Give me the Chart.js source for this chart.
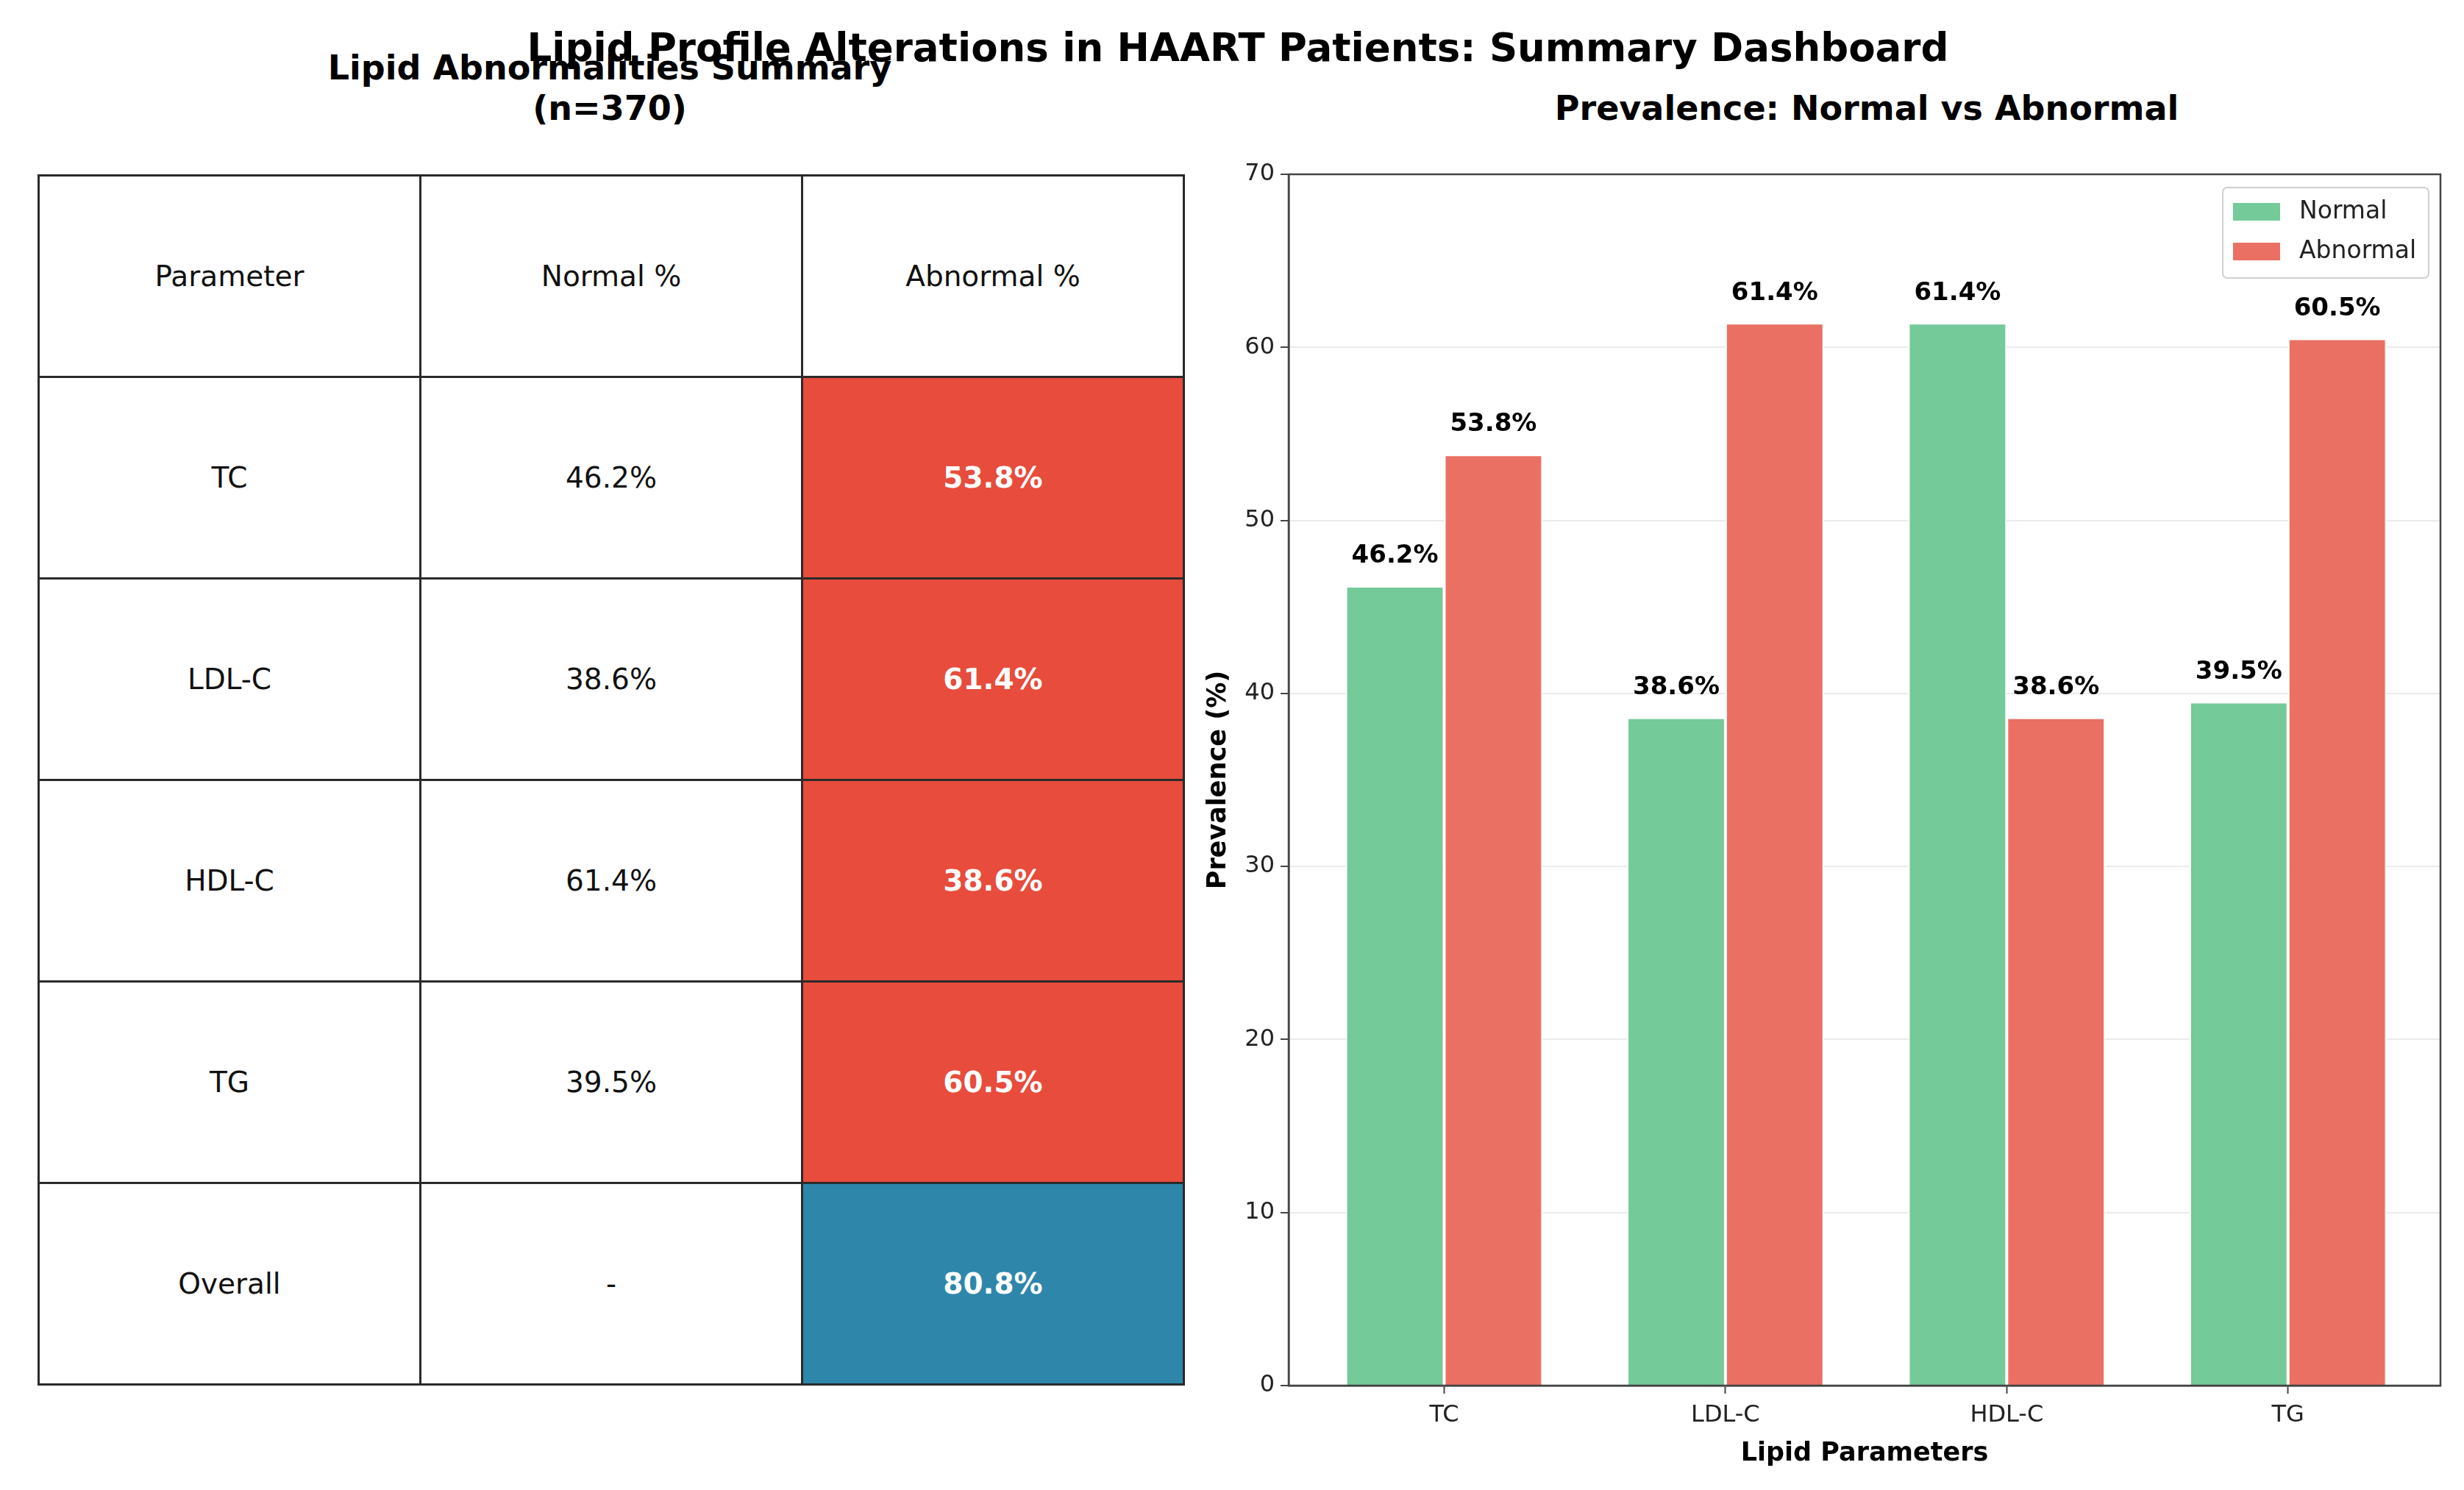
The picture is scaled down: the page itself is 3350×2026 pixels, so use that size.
<!DOCTYPE html>
<html>
<head>
<meta charset="utf-8">
<script src="https://cdn.jsdelivr.net/npm/chart.js@4.4.1/dist/chart.umd.min.js"></script>
<style>
  body { margin: 0; width: 3350px; height: 2026px; background: #fff; position: relative; overflow: hidden; font-family: "DejaVu Sans", sans-serif; }
  .ttl { position: absolute; transform: translate(-50%, -50%); font-weight: bold; color: #000; white-space: nowrap; line-height: 1; }
  #tableBox { position: absolute; left: 51px; top: 237px; width: 1560px; height: 1647px; }
  #tableBox table { width: 100%; height: 1647px; border-collapse: collapse; table-layout: fixed; }
  #tableBox td { border: 3px solid #2a2a2a; text-align: center; font-size: 39px; color: #111; height: 272px; padding: 0; box-sizing: border-box; }
  #chartBox { position: absolute; left: 1600px; top: 200px; }
</style>
</head>
<body>
<div class="ttl" style="left:829px; top:92px; font-size:46px;">Lipid Abnormalities Summary</div>
<div class="ttl" style="left:829px; top:147px; font-size:46px;">(n=370)</div>
<div class="ttl" style="left:2538px; top:147px; font-size:46px;">Prevalence: Normal vs Abnormal</div>
<div class="ttl" style="left:1683px; top:64px; font-size:53px;">Lipid Profile Alterations in HAART Patients: Summary Dashboard</div>

<div id="tableBox"><table id="summaryTable"></table></div>
<div id="chartBox"><canvas id="myChart" width="1750" height="1826"></canvas></div>

<script>
const parameters = ['TC', 'LDL-C', 'HDL-C', 'TG'];
const normalPct = [46.2, 38.6, 61.4, 39.5];
const abnormalPct = [53.8, 61.4, 38.6, 60.5];
const overallLabel = 'Overall';
const overallAbnormal = 80.8;
const tableHeaders = ['Parameter', 'Normal %', 'Abnormal %'];
const seriesNames = ['Normal', 'Abnormal'];
const yMax = 70;
const yStep = 10;

const green = 'rgb(116, 202, 152)';
const red = 'rgb(235, 112, 100)';
const font = '"DejaVu Sans", sans-serif';

// table on the left
const table = document.getElementById('summaryTable');
let html = '<tr>' + tableHeaders.map(h => '<td>' + h + '</td>').join('') + '</tr>';
for (let i = 0; i < parameters.length; i++) {
    html += '<tr><td>' + parameters[i] + '</td><td>' + normalPct[i].toFixed(1) + '%</td>' +
        '<td style="background:#e74c3c;color:#fff;font-weight:bold;">' + abnormalPct[i].toFixed(1) + '%</td></tr>';
}
html += '<tr><td>' + overallLabel + '</td><td>-</td>' +
    '<td style="background:#2e86ab;color:#fff;font-weight:bold;">' + overallAbnormal.toFixed(1) + '%</td></tr>';
table.innerHTML = html;

const framePlugin = {
    id: 'frame_and_labels',
    afterDatasetsDraw: (chart) => {
        const ctx = chart.ctx;
        const yScale = chart.scales.y;
        ctx.save();
        ctx.font = 'bold 34px ' + font;
        ctx.fillStyle = '#000';
        ctx.textAlign = 'center';
        ctx.textBaseline = 'bottom';
        chart.data.datasets.forEach((ds, di) => {
            const meta = chart.getDatasetMeta(di);
            meta.data.forEach((bar, i) => {
                const v = ds.data[i].y;
                ctx.fillText(v.toFixed(1) + '%', bar.x, yScale.getPixelForValue(v + 1));
            });
        });
        ctx.restore();
    },
    afterDraw: (chart) => {
        const ctx = chart.ctx;
        const a = chart.chartArea;
        ctx.save();
        ctx.strokeStyle = '#444';
        ctx.lineWidth = 2.5;
        ctx.strokeRect(a.left, a.top, a.right - a.left, a.bottom - a.top);

        // legend, upper right
        const bx = a.right - 296, by = a.top + 18, bw = 280, bh = 123;
        ctx.fillStyle = 'rgba(255,255,255,0.9)';
        ctx.strokeStyle = '#cfcfcf';
        ctx.lineWidth = 2;
        ctx.beginPath();
        ctx.roundRect(bx, by, bw, bh, 6);
        ctx.fill();
        ctx.stroke();
        const colors = [green, red];
        ctx.font = '33px ' + font;
        ctx.textAlign = 'left';
        ctx.textBaseline = 'middle';
        seriesNames.forEach((name, i) => {
            const cy = by + 33 + i * 54;
            ctx.fillStyle = colors[i];
            ctx.fillRect(bx + 14, cy - 12, 64, 24);
            ctx.fillStyle = '#222';
            ctx.fillText(name, bx + 104, cy);
        });
        ctx.restore();
    }
};

const ctx = document.getElementById('myChart').getContext('2d');
const myChart = new Chart(ctx, {
    type: 'bar',
    plugins: [framePlugin],
    data: {
        datasets: [{
            label: seriesNames[0],
            data: normalPct.map((v, i) => ({ x: i, y: v })),
            backgroundColor: green,
            borderColor: '#fff',
            borderWidth: 2,
            categoryPercentage: 0.7,
            barPercentage: 1.0
        }, {
            label: seriesNames[1],
            data: abnormalPct.map((v, i) => ({ x: i, y: v })),
            backgroundColor: red,
            borderColor: '#fff',
            borderWidth: 2,
            categoryPercentage: 0.7,
            barPercentage: 1.0
        }]
    },
    options: {
        responsive: false,
        animation: false,
        devicePixelRatio: 1,
        layout: { padding: { left: 0, right: 32, top: 37, bottom: 0 } },
        plugins: { legend: { display: false }, tooltip: { enabled: false } },
        scales: {
            x: {
                type: 'linear',
                min: -0.553,
                max: 3.542,
                offset: false,
                afterBuildTicks: (scale) => { scale.ticks = parameters.map((p, i) => ({ value: i })); },
                afterFit: (scale) => { scale.height = 142; },
                ticks: {
                    callback: (v) => parameters[v],
                    font: { family: font, size: 32 },
                    color: '#222',
                    padding: 10,
                    maxRotation: 0,
                    autoSkip: false
                },
                grid: { offset: false, drawOnChartArea: false, drawTicks: true, tickLength: 11, tickColor: '#444', tickWidth: 2 },
                border: { display: true, color: '#444', width: 2.5 },
                title: {
                    display: true,
                    text: 'Lipid Parameters',
                    font: { family: font, size: 35, weight: 'bold', lineHeight: 1.2 },
                    color: '#000',
                    padding: { top: 0, bottom: 28 }
                }
            },
            y: {
                min: 0,
                max: yMax,
                afterFit: (scale) => { scale.width = 152; },
                ticks: {
                    stepSize: yStep,
                    font: { family: font, size: 32 },
                    color: '#222',
                    padding: 8
                },
                grid: { color: '#ebebeb', lineWidth: 2, tickLength: 11, tickColor: '#444', tickWidth: 2 },
                border: { display: true, color: '#444', width: 2.5 },
                title: {
                    display: true,
                    text: 'Prevalence (%)',
                    font: { family: font, size: 35, weight: 'bold', lineHeight: 1.2 },
                    color: '#000',
                    padding: { top: 36, bottom: 0 }
                }
            }
        }
    }
});
</script>
</body>
</html>
